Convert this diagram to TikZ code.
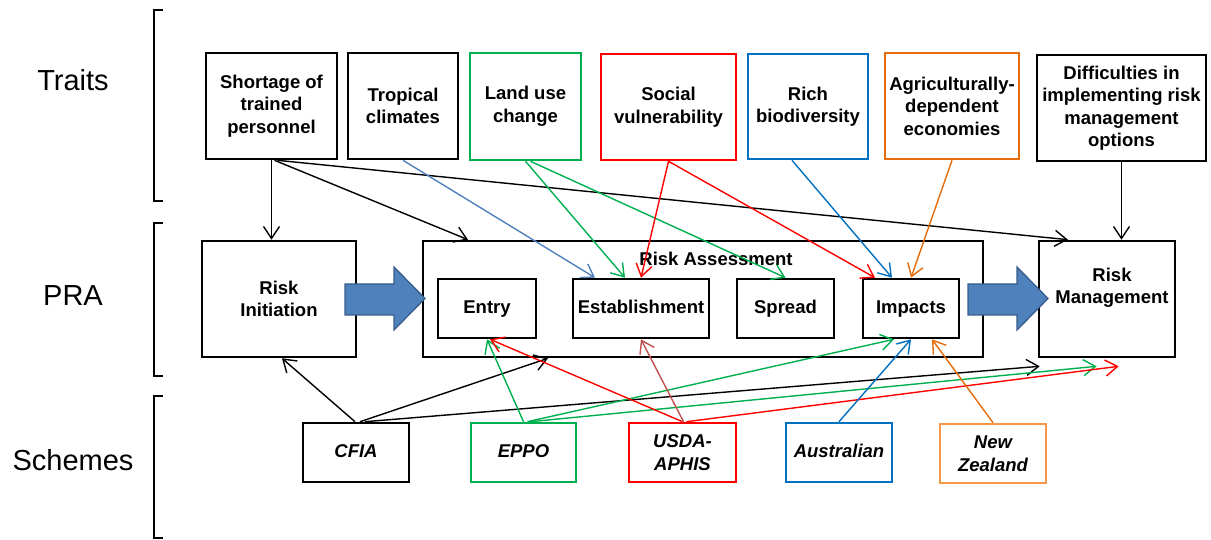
\documentclass[tikz,border=0pt]{standalone}
\usepackage{fontspec}
\setmainfont{Liberation Sans}
\usetikzlibrary{arrows.meta}
\definecolor{cgreen}{HTML}{00B050}
\definecolor{cred}{HTML}{FF0000}
\definecolor{cblue}{HTML}{0070C0}
\definecolor{corange}{HTML}{E46C0A}
\definecolor{cnz}{HTML}{F79646}
\definecolor{csteel}{HTML}{4F81BD}
\definecolor{cbrown}{HTML}{C0504D}
\definecolor{cdark}{HTML}{385D8A}
\begin{document}
\begin{tikzpicture}[x=1pt,y=-1pt,
  box/.style={draw=black,line width=2.6pt,inner sep=0pt,align=center,
    font=\bfseries\fontsize{18.5}{22.5}\selectfont},
  scheme/.style={box,font=\bfseries\itshape\fontsize{18.5}{22.5}\selectfont},
  grp/.style={font=\fontsize{29}{34}\selectfont,inner sep=0pt},
  con/.style={line width=1.4pt,-{Straight Barb[length=12pt,width=16pt]}},
  brk/.style={line width=1.8pt},
  blockarrow/.style={fill=csteel,draw=cdark,line width=1.3pt,line join=miter}]
\useasboundingbox (0,0) rectangle (1211,540);
% group labels and brackets
\node[grp] (gtraits) at (73,80) {Traits};
\node[grp] (gpra) at (73,296) {PRA};
\node[grp] (gschemes) at (73,460) {Schemes};
\draw[brk] (163,10) -- (154,10) -- (154,201) -- (163,201);
\draw[brk] (163,223) -- (154,223) -- (154,376) -- (163,376);
\draw[brk] (163,396) -- (154,396) -- (154,538) -- (163,538);
% traits
\node[box,minimum width=131,minimum height=106] (short) at (271.5,106) {Shortage of\\trained\\personnel};
\node[box,minimum width=110,minimum height=106] (trop) at (403,106) {Tropical\\climates};
\node[box,draw=cgreen,minimum width=111,minimum height=107] (land) at (525.5,106.5) {Land use\\change};
\node[box,draw=cred,minimum width=135,minimum height=106] (social) at (668.5,107) {Social\\vulnerability};
\node[box,draw=cblue,minimum width=120,minimum height=105] (rich) at (808,106.5) {Rich\\biodiversity};
\node[box,draw=corange,minimum width=134,minimum height=106] (agri) at (952,106) {Agriculturally-\\dependent\\economies};
\node[box,minimum width=169,minimum height=106] (diff) at (1121.5,108) {Difficulties in\\implementing risk\\management\\options};
% PRA
\node[box,minimum width=154,minimum height=116] (init) at (279,299) {Risk\\Initiation};
\node[box,minimum width=560,minimum height=116] (ra) at (703,299) {};
\node[font=\bfseries\fontsize{18.5}{22.5}\selectfont,inner sep=0pt] (ratitle) at (716,259) {Risk Assessment};
\node[box,minimum width=98,minimum height=59,text height=13.5pt,text depth=4pt] (entry) at (487,308.5) {Entry};
\node[box,minimum width=136,minimum height=59,text height=13.5pt,text depth=4pt] (estab) at (641,308.5) {Establishment};
\node[box,minimum width=97,minimum height=59,text height=13.5pt,text depth=4pt] (spread) at (785.5,308.5) {Spread};
\node[box,minimum width=96,minimum height=59,text height=13.5pt,text depth=4pt] (impacts) at (911,308.5) {Impacts};
\node[box,minimum width=136,minimum height=116,
  label={[font=\bfseries\fontsize{18.5}{22.5}\selectfont,align=center,inner sep=0pt,yshift=11pt,xshift=5pt]center:Risk\\Management}] (rm) at (1107,299) {};
% block arrows
\draw[blockarrow] (345,284) -- (394,284) -- (394,267) -- (425,298.5) -- (394,330) -- (394,315) -- (345,315) -- cycle;
\draw[blockarrow] (968,284) -- (1017,284) -- (1017,267) -- (1048,298.5) -- (1017,330) -- (1017,315) -- (968,315) -- cycle;
% schemes
\node[scheme,minimum width=106,minimum height=59,text height=13.5pt,text depth=4pt] (cfia) at (356,452.5) {CFIA};
\node[scheme,draw=cgreen,minimum width=105,minimum height=59,text height=13.5pt,text depth=4pt] (eppo) at (523.5,452.5) {EPPO};
\node[scheme,draw=cred,minimum width=107,minimum height=59] (usda) at (682.5,452.5) {USDA-\\APHIS};
\node[scheme,draw=cblue,minimum width=106,minimum height=59,text height=13.5pt,text depth=4pt] (aus) at (839,452.5) {Australian};
\node[scheme,draw=cnz,minimum width=106,minimum height=59] (nz) at (993,453.5) {New\\Zealand};
% connectors from traits
\draw[con] (short.south) -- (short.south |- init.north);
\draw[con] ([xshift=3pt]short.south) -- ([xshift=-235pt]ra.north);
\draw[con] ([xshift=6pt]short.south) -- ([xshift=-39pt]rm.north);
\draw[con,csteel] (trop.south) -- ([xshift=-46pt]estab.north);
\draw[con,cgreen] (land.south) -- ([xshift=-16pt]estab.north);
\draw[con,cgreen] ([xshift=5pt]land.south) -- (spread.north);
\draw[con,cred] (social.south) -- (estab.north);
\draw[con,cred] (social.south) -- ([xshift=-36pt]impacts.north);
\draw[con,cblue] ([xshift=-16pt]rich.south) -- ([xshift=-19pt]impacts.north);
\draw[con,corange] (agri.south) -- (impacts.north);
\draw[con] (diff.south) -- (diff.south |- rm.north);
% connectors from schemes
\draw[con] ([xshift=-1pt]cfia.north) -- ([xshift=3pt]init.south);
\draw[con] ([xshift=4pt]cfia.north) -- ([xshift=-155pt]ra.south);
\draw[con] ([xshift=9pt]cfia.north) -- ([xshift=2pt,yshift=-8pt]rm.south west);
\draw[con,cgreen] (eppo.north) -- (entry.south);
\draw[con,cgreen] ([xshift=4pt]eppo.north) -- ([xshift=-17pt]impacts.south);
\draw[con,cgreen] ([xshift=7pt]eppo.north) -- ([xshift=59pt,yshift=-8pt]rm.south west);
\draw[con,cred] (usda.north) -- ([xshift=3pt]entry.south);
\draw[con,cbrown] ([xshift=1pt]usda.north) -- (estab.south);
\draw[con,cred] ([xshift=4pt]usda.north) -- ([xshift=81pt,yshift=-8pt]rm.south west);
\draw[con,cblue] (aus.north) -- (impacts.south);
\draw[con,corange] (nz.north) -- ([xshift=21pt]impacts.south);
\end{tikzpicture}
\end{document}
